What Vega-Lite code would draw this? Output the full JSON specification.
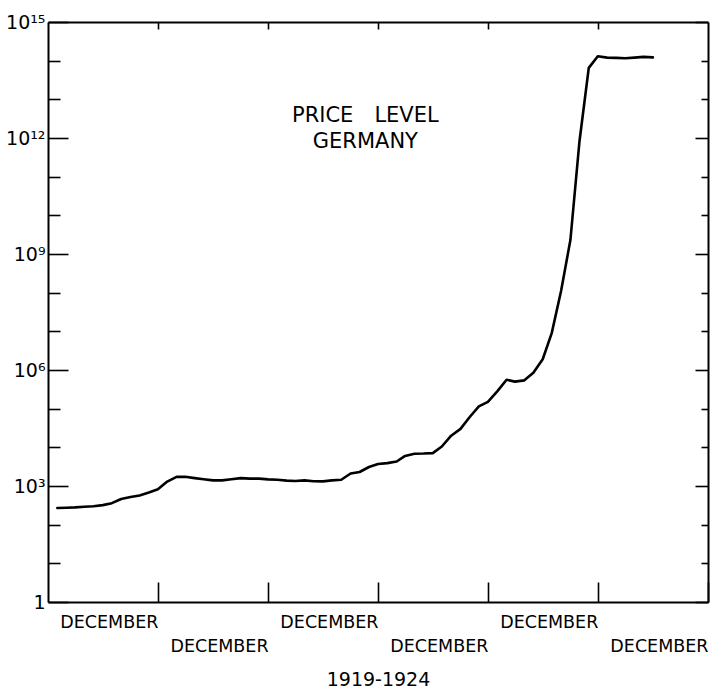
{
  "$schema": "https://vega.github.io/schema/vega-lite/v6.json",
  "width": 660,
  "height": 580,
  "padding": {"left": 0, "top": 1, "right": 3, "bottom": 0},
  "background": "white",
  "config": {
    "view": {"stroke": null},
    "font": "DejaVu Sans",
    "axis": {
      "grid": false,
      "domainColor": "black",
      "domainWidth": 2,
      "tickColor": "black",
      "tickWidth": 1.6,
      "labelColor": "black",
      "titleColor": "black",
      "labelFont": "DejaVu Sans",
      "titleFont": "DejaVu Sans"
    }
  },
  "data": {
    "values": [
      {"date": "1919-01-01", "price": 270},
      {"date": "1919-02-01", "price": 275},
      {"date": "1919-03-01", "price": 280},
      {"date": "1919-04-01", "price": 290},
      {"date": "1919-05-01", "price": 300},
      {"date": "1919-06-01", "price": 320},
      {"date": "1919-07-01", "price": 360},
      {"date": "1919-08-01", "price": 460},
      {"date": "1919-09-01", "price": 520},
      {"date": "1919-10-01", "price": 570},
      {"date": "1919-11-01", "price": 680},
      {"date": "1919-12-01", "price": 820},
      {"date": "1920-01-01", "price": 1300},
      {"date": "1920-02-01", "price": 1720},
      {"date": "1920-03-01", "price": 1730},
      {"date": "1920-04-01", "price": 1600},
      {"date": "1920-05-01", "price": 1500},
      {"date": "1920-06-01", "price": 1400},
      {"date": "1920-07-01", "price": 1400},
      {"date": "1920-08-01", "price": 1500},
      {"date": "1920-09-01", "price": 1600},
      {"date": "1920-10-01", "price": 1550},
      {"date": "1920-11-01", "price": 1550},
      {"date": "1920-12-01", "price": 1480},
      {"date": "1921-01-01", "price": 1450},
      {"date": "1921-02-01", "price": 1380},
      {"date": "1921-03-01", "price": 1350},
      {"date": "1921-04-01", "price": 1400},
      {"date": "1921-05-01", "price": 1330},
      {"date": "1921-06-01", "price": 1320},
      {"date": "1921-07-01", "price": 1400},
      {"date": "1921-08-01", "price": 1450},
      {"date": "1921-09-01", "price": 2100},
      {"date": "1921-10-01", "price": 2300},
      {"date": "1921-11-01", "price": 3100},
      {"date": "1921-12-01", "price": 3700},
      {"date": "1922-01-01", "price": 3900},
      {"date": "1922-02-01", "price": 4300},
      {"date": "1922-03-01", "price": 6000},
      {"date": "1922-04-01", "price": 6800},
      {"date": "1922-05-01", "price": 6900},
      {"date": "1922-06-01", "price": 7100},
      {"date": "1922-07-01", "price": 10500},
      {"date": "1922-08-01", "price": 20000},
      {"date": "1922-09-01", "price": 30000},
      {"date": "1922-10-01", "price": 60000},
      {"date": "1922-11-01", "price": 115000},
      {"date": "1922-12-01", "price": 150000},
      {"date": "1923-01-01", "price": 280000},
      {"date": "1923-02-01", "price": 560000},
      {"date": "1923-03-01", "price": 500000},
      {"date": "1923-04-01", "price": 540000},
      {"date": "1923-05-01", "price": 850000},
      {"date": "1923-06-01", "price": 1900000},
      {"date": "1923-07-01", "price": 9000000},
      {"date": "1923-08-01", "price": 110000000},
      {"date": "1923-09-01", "price": 2300000000},
      {"date": "1923-10-01", "price": 800000000000},
      {"date": "1923-11-01", "price": 65000000000000},
      {"date": "1923-12-01", "price": 130000000000000},
      {"date": "1924-01-01", "price": 120000000000000},
      {"date": "1924-02-01", "price": 118000000000000},
      {"date": "1924-03-01", "price": 115000000000000},
      {"date": "1924-04-01", "price": 120000000000000},
      {"date": "1924-05-01", "price": 125000000000000},
      {"date": "1924-06-01", "price": 122000000000000}
    ]
  },
  "layer": [
    {
      "mark": {"type": "line", "color": "black", "strokeWidth": 2.6, "strokeJoin": "round", "strokeCap": "round"},
      "encoding": {
        "x": {
          "field": "date",
          "type": "temporal",
          "scale": {
            "type": "utc",
            "nice": false,
            "domain": [
              {"year": 1918, "month": 12, "date": 1, "utc": true},
              {"year": 1924, "month": 12, "date": 1, "utc": true}
            ]
          },
          "axis": {
            "orient": "bottom",
            "values": [
              {"year": 1919, "month": 12, "date": 1, "utc": true},
              {"year": 1920, "month": 12, "date": 1, "utc": true},
              {"year": 1921, "month": 12, "date": 1, "utc": true},
              {"year": 1922, "month": 12, "date": 1, "utc": true},
              {"year": 1923, "month": 12, "date": 1, "utc": true},
              {"year": 1924, "month": 12, "date": 1, "utc": true}
            ],
            "tickSize": -20,
            "labelExpr": "utcyear(datum.value) % 2 == 1 ? 'DECEMBER' : ['', 'DECEMBER']",
            "labelAlign": "right",
            "labelBaseline": "top",
            "labelPadding": 31,
            "labelFontSize": 17.5,
            "labelLineHeight": 24,
            "labelFlush": false,
            "labelOverlap": false,
            "labelBound": false,
            "labelLimit": 0,
            "title": "1919-1924",
            "titleFontSize": 19,
            "titleFontWeight": "normal",
            "titlePadding": 16
          }
        },
        "y": {
          "field": "price",
          "type": "quantitative",
          "scale": {"type": "log", "domain": [1, 1000000000000000], "nice": false},
          "axis": {
            "orient": "left",
            "values": [1, 10, 100, 1000, 10000, 100000, 1000000, 10000000, 100000000, 1000000000, 10000000000, 100000000000, 1000000000000, 10000000000000, 100000000000000, 1000000000000000],
            "tickSize": {"condition": {"test": "round(log(datum.value) / LN10) % 3 == 0", "value": -20}, "value": -12},
            "labelExpr": "round(log(datum.value) / LN10) == 0 ? '1' : round(log(datum.value) / LN10) == 3 ? '10³' : round(log(datum.value) / LN10) == 6 ? '10⁶' : round(log(datum.value) / LN10) == 9 ? '10⁹' : round(log(datum.value) / LN10) == 12 ? '10¹²' : round(log(datum.value) / LN10) == 15 ? '10¹⁵' : ''",
            "labelPadding": 23,
            "labelFontSize": 19,
            "labelBaseline": "middle",
            "labelFlush": false,
            "labelOverlap": false,
            "labelBound": false,
            "minExtent": 48,
            "maxExtent": 48,
            "title": null
          }
        }
      }
    },
    {
      "data": {"values": [{}]},
      "mark": {
        "type": "text",
        "text": ["PRICE\u2003LEVEL", "GERMANY"],
        "fontSize": 21,
        "lineHeight": 26,
        "align": "center",
        "baseline": "middle",
        "color": "black",
        "font": "DejaVu Sans"
      },
      "encoding": {
        "x": {
          "datum": {"year": 1921, "month": 10, "date": 20, "utc": true},
          "type": "temporal",
          "scale": {
            "type": "utc",
            "nice": false,
            "domain": [
              {"year": 1918, "month": 12, "date": 1, "utc": true},
              {"year": 1924, "month": 12, "date": 1, "utc": true}
            ]
          },
          "axis": {
            "orient": "top",
            "values": [
              {"year": 1919, "month": 12, "date": 1, "utc": true},
              {"year": 1920, "month": 12, "date": 1, "utc": true},
              {"year": 1921, "month": 12, "date": 1, "utc": true},
              {"year": 1922, "month": 12, "date": 1, "utc": true},
              {"year": 1923, "month": 12, "date": 1, "utc": true}
            ],
            "tickSize": -7,
            "labels": false,
            "title": null,
            "minExtent": 21,
            "maxExtent": 21
          }
        },
        "y": {
          "datum": 3700000000000,
          "type": "quantitative",
          "scale": {"type": "log", "domain": [1, 1000000000000000], "nice": false},
          "axis": {
            "orient": "right",
            "values": [1, 10, 100, 1000, 10000, 100000, 1000000, 10000000, 100000000, 1000000000, 10000000000, 100000000000, 1000000000000, 10000000000000, 100000000000000, 1000000000000000],
            "tickSize": {"condition": {"test": "round(log(datum.value) / LN10) % 3 == 0", "value": -13}, "value": -7},
            "labels": false,
            "title": null,
            "minExtent": 0,
            "maxExtent": 0
          }
        }
      }
    }
  ],
  "resolve": {"axis": {"x": "independent", "y": "independent"}}
}
